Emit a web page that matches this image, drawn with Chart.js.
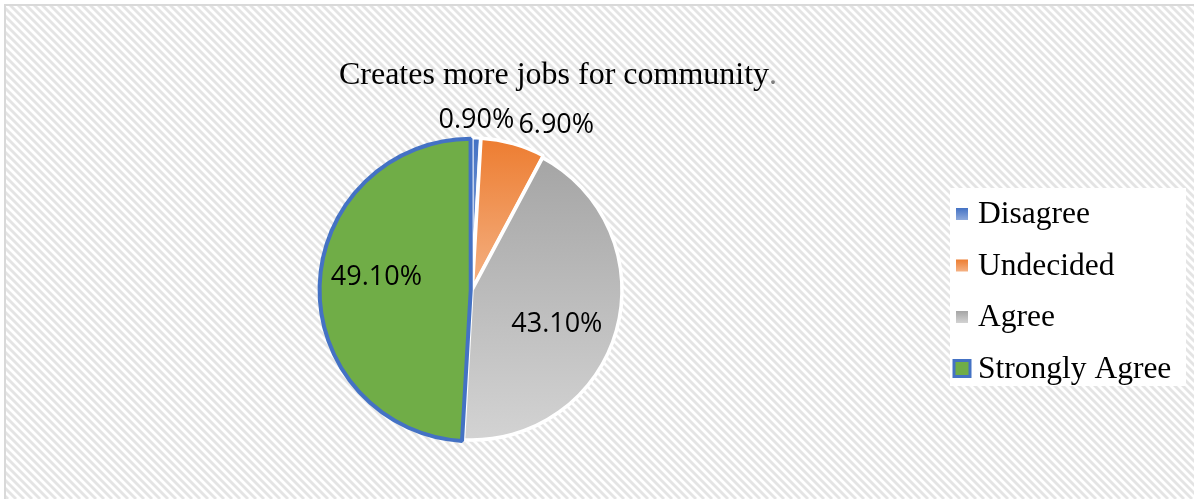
<!DOCTYPE html>
<html lang="en">
<head>
<meta charset="UTF-8">
<title>Creates more jobs for community</title>
<script src="https://cdn.jsdelivr.net/npm/chart.js"></script>
<style>
  html, body { margin: 0; padding: 0; background: #fff; }
</style>
</head>
<body>
<canvas id="jobsChart" width="1194" height="499"></canvas>
<script>
// survey answers, share of respondents in %
const categories = ['Disagree', 'Undecided', 'Agree', 'Strongly Agree'];
const percentages = [0.9, 6.9, 43.1, 49.1];
const chartTitle = 'Creates more jobs for community';

// top / bottom colour of each slice fill
const fillTop = ['#4472C4', '#ED7D31', '#A5A5A5', '#70AD47'];
const fillBottom = ['#8EA9DB', '#F4B183', '#D3D3D3', '#70AD47'];
const labelPlacement = ['outside', 'outside', 'inside', 'inside'];
const PIE_RADIUS = 150;

function sliceGradient(context) {
  const i = context.dataIndex;
  const chart = context.chart;
  const area = chart.chartArea;
  if (i === undefined || !area) return fillTop[i || 0];
  const total = percentages.reduce((a, b) => a + b, 0);
  const before = percentages.slice(0, i).reduce((a, b) => a + b, 0);
  const a0 = -Math.PI / 2 + 2 * Math.PI * before / total;
  const a1 = a0 + 2 * Math.PI * percentages[i] / total;
  const cy = (area.top + area.bottom) / 2;
  let y0 = cy, y1 = cy;
  for (let k = 0; k <= 40; k++) {
    const y = cy + PIE_RADIUS * Math.sin(a0 + (a1 - a0) * k / 40);
    y0 = Math.min(y0, y);
    y1 = Math.max(y1, y);
  }
  const g = chart.ctx.createLinearGradient(0, y0, 0, y1);
  g.addColorStop(0, fillTop[i]);
  g.addColorStop(1, fillBottom[i]);
  return g;
}

// hatched chart area with a light frame
const hatchBackground = {
  id: 'hatchBackground',
  beforeDraw(chart) {
    const {ctx, width, height} = chart;
    ctx.save();
    ctx.fillStyle = '#ffffff';
    ctx.fillRect(0, 0, width, height);
    ctx.beginPath();
    ctx.rect(6, 6, width, height);
    ctx.clip();
    ctx.strokeStyle = '#e4e4e4';
    ctx.lineWidth = 2.8;
    for (let k = -height; k < width + 10; k += 8) {
      ctx.beginPath();
      ctx.moveTo(k, 0);
      ctx.lineTo(k + height, height);
      ctx.stroke();
    }
    ctx.restore();
    ctx.save();
    ctx.strokeStyle = '#d9d9d9';
    ctx.lineWidth = 2;
    ctx.strokeRect(5, 5, width + 10, height + 10);
    ctx.restore();
  }
};

// percentage labels, placed from each arc's angles
const sliceLabels = {
  id: 'sliceLabels',
  afterDatasetsDraw(chart) {
    const {ctx} = chart;
    const meta = chart.getDatasetMeta(0);
    ctx.save();
    ctx.font = '27px "Open Sans"';
    ctx.fillStyle = '#000000';
    meta.data.forEach((arc, i) => {
      const p = arc.getProps(['x', 'y', 'startAngle', 'endAngle', 'outerRadius']);
      const mid = (p.startAngle + p.endAngle) / 2;
      const off = arc.options.offset || 0;
      const cx = p.x + Math.cos(mid) * off, cy = p.y + Math.sin(mid) * off;
      const text = percentages[i].toFixed(2) + '%';
      if (labelPlacement[i] === 'inside') {
        // turned a little clockwise, as the spreadsheet places them
        const a = mid + 0.11;
        ctx.textAlign = 'center';
        ctx.textBaseline = 'middle';
        ctx.fillText(text, cx + Math.cos(a) * p.outerRadius * 0.61, cy + Math.sin(a) * p.outerRadius * 0.61);
      } else {
        const dx = Math.cos(mid), dy = Math.sin(mid);
        const r = p.outerRadius + 2;
        ctx.textAlign = dx > 0.1 ? 'left' : (dx < -0.1 ? 'right' : 'center');
        ctx.textBaseline = dy < 0 ? 'bottom' : 'top';
        ctx.fillText(text, cx + dx * r + (dx > 0.1 ? 4 : 0), cy + dy * r);
      }
    });
    ctx.restore();
  }
};

// title and legend drawn on top
const titleAndLegend = {
  id: 'titleAndLegend',
  afterDraw(chart) {
    const {ctx} = chart;
    ctx.save();
    ctx.font = '32px "Liberation Serif"';
    ctx.textBaseline = 'alphabetic';
    ctx.textAlign = 'left';
    const w1 = ctx.measureText(chartTitle).width;
    const w2 = ctx.measureText('.').width;
    const tx = 558 - (w1 + w2) / 2;
    ctx.fillStyle = '#000000';
    ctx.fillText(chartTitle, tx, 84);
    ctx.fillStyle = '#7f7f7f';
    ctx.fillText('.', tx + w1, 84);

    // legend box
    ctx.fillStyle = '#ffffff';
    ctx.fillRect(950, 188, 236, 198);
    ctx.font = '31.5px "Liberation Serif"';
    categories.forEach((name, i) => {
      const base = 223 + i * 51.5;
      const my = base - 9;
      if (i === categories.length - 1) {
        ctx.fillStyle = fillTop[i];
        ctx.fillRect(954, my - 8, 16, 16);
        ctx.strokeStyle = '#4472C4';
        ctx.lineWidth = 3;
        ctx.strokeRect(954, my - 8, 16, 16);
      } else {
        const g = ctx.createLinearGradient(0, my - 6, 0, my + 6);
        g.addColorStop(0, fillTop[i]);
        g.addColorStop(1, fillBottom[i]);
        ctx.fillStyle = g;
        ctx.fillRect(956, my - 6, 12, 12);
      }
      ctx.fillStyle = '#000000';
      ctx.fillText(name, 978, base);
    });
    ctx.restore();
  }
};

new Chart(document.getElementById('jobsChart').getContext('2d'), {
  type: 'pie',
  data: {
    labels: categories,
    datasets: [{
      data: percentages,
      backgroundColor: sliceGradient,
      borderColor: ['#ffffff', '#ffffff', '#ffffff', '#4472C4'],
      borderWidth: [3, 3.5, 3.5, 4],
      offset: [4, 5, 0, 5]
    }]
  },
  options: {
    responsive: false,
    animation: false,
    radius: PIE_RADIUS,
    layout: { padding: { left: 302, right: 552, top: 130, bottom: 49 } },
    plugins: {
      legend: { display: false },
      title: { display: false },
      tooltip: { enabled: false }
    }
  },
  plugins: [hatchBackground, sliceLabels, titleAndLegend]
});
</script>
</body>
</html>
